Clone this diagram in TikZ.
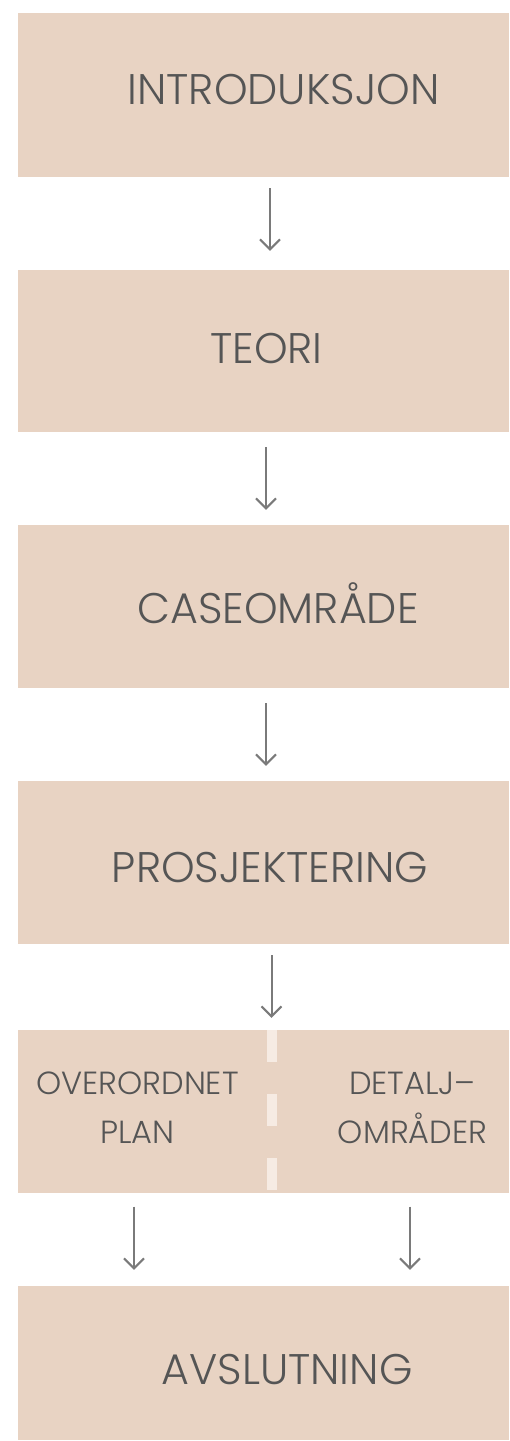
\documentclass[tikz,border=0pt]{standalone}
\usepackage{fontspec}
\setmainfont{Poppins Light}
\usetikzlibrary{arrows.meta}
\definecolor{boxfill}{HTML}{E8D3C3}
\definecolor{txtgray}{HTML}{555555}
\definecolor{arrgray}{HTML}{7A7A7A}
\definecolor{dashcol}{HTML}{F6EBE3}
\tikzset{
  stagebox/.style={rectangle, fill=boxfill, draw=none, minimum width=491pt, inner sep=0pt},
  bigtext/.style={text=txtgray, font=\fontsize{42.8}{50}\selectfont, inner sep=0pt, anchor=base},
  smalltext/.style={text=txtgray, font=\fontsize{32}{49}\selectfont, inner sep=0pt, align=center, anchor=base},
  arr/.style={draw=arrgray, line width=2pt, -{Straight Barb[length=10pt,width=20pt,line width=2pt]}},
  divider/.style={draw=dashcol, line width=10pt, dash pattern=on 32pt off 32pt}
}
\begin{document}
\begin{tikzpicture}[x=1pt,y=-1pt]
\useasboundingbox (0,0) rectangle (509,1441);
\node[stagebox, minimum height=164pt] (b1) at (263.5,95) {};
\node[stagebox, minimum height=162pt] (b2) at (263.5,351) {};
\node[stagebox, minimum height=163pt] (b3) at (263.5,606.5) {};
\node[stagebox, minimum height=163pt] (b4) at (263.5,862.5) {};
\node[stagebox, minimum height=163pt] (b5) at (263.5,1111.5) {};
\node[stagebox, minimum height=154pt] (b6) at (263.5,1363) {};

\draw[divider] ([xshift=8.5pt]b5.north) -- ([xshift=8.5pt]b5.south);

\node[bigtext] (t1) at (283.5,104) {INTRODUKSJON};
\node[bigtext] (t2) at (266.5,363) {TEORI};
\node[bigtext] (t3) at (278,623) {CASEOMRÅDE};
\node[bigtext] (t4) at (270,882) {PROSJEKTERING};
\node[smalltext] (t5a) at (137.5,1143) {OVERORDNET\\PLAN};
\node[smalltext] (t5b) at (412.5,1143) {DETALJ–\\OMRÅDER};
\node[bigtext] (t6) at (287,1384) {AVSLUTNING};

\draw[arr, shorten <=11pt, shorten >=19pt] ([xshift=6.5pt]b1.south) -- ([xshift=6.5pt]b2.north);
\draw[arr, shorten <=15pt, shorten >=15pt] ([xshift=2.5pt]b2.south) -- ([xshift=2.5pt]b3.north);
\draw[arr, shorten <=15pt, shorten >=15pt] ([xshift=2.5pt]b3.south) -- ([xshift=2.5pt]b4.north);
\draw[arr, shorten <=11pt, shorten >=12pt] ([xshift=8pt]b4.south) -- ([xshift=8pt]b5.north);
\draw[arr, shorten <=13.5pt, shorten >=16pt] ([xshift=-129.5pt]b5.south) -- ([xshift=-129.5pt]b6.north);
\draw[arr, shorten <=13.5pt, shorten >=16pt] ([xshift=146.5pt]b5.south) -- ([xshift=146.5pt]b6.north);
\end{tikzpicture}
\end{document}
